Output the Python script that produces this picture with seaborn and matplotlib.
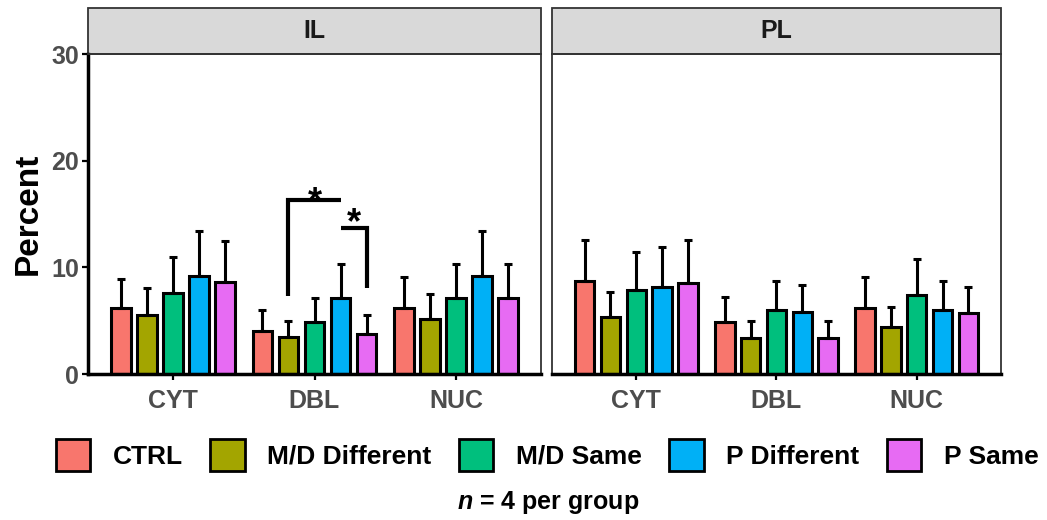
import numpy as np
import pandas as pd
import matplotlib
matplotlib.use("Agg")
import matplotlib.pyplot as plt
import seaborn as sns
from matplotlib.patches import Patch, Rectangle

sns.set_style("white")
plt.rcParams["font.family"] = ["Liberation Sans", "DejaVu Sans"]
plt.rcParams["font.weight"] = "bold"
plt.rcParams["text.color"] = "black"
plt.rcParams["mathtext.fontset"] = "custom"
plt.rcParams["mathtext.it"] = "Liberation Sans:italic:bold"
plt.rcParams["mathtext.rm"] = "Liberation Sans:bold"

regions = ["IL", "PL"]
locations = ["CYT", "DBL", "NUC"]
groups = ["CTRL", "M/D Different", "M/D Same", "P Different", "P Same"]
colors = ["#F8766D", "#A3A500", "#00BF7D", "#00B0F6", "#E76BF3"]

# mean percent, rows = location, columns = group
il_mean = [[6.15, 5.52, 7.63, 9.20, 8.58],
           [4.04, 3.47, 4.89, 7.16, 3.79],
           [6.15, 5.20, 7.16, 9.20, 7.16]]
il_sd = [[2.78, 2.58, 3.32, 4.20, 3.88],
         [1.96, 1.53, 2.27, 3.14, 1.73],
         [2.90, 2.28, 3.14, 4.20, 3.14]]
pl_mean = [[8.68, 5.36, 7.89, 8.20, 8.52],
           [4.83, 3.41, 6.00, 5.84, 3.41],
           [6.15, 4.42, 7.41, 6.00, 5.68]]
pl_sd = [[3.87, 2.37, 3.51, 3.70, 4.03],
         [2.43, 1.54, 2.74, 2.52, 1.54],
         [2.90, 1.88, 3.39, 2.68, 2.52]]

# significance brackets in IL / DBL
bracket_pairs = [("M/D Different", "P Different"), ("P Different", "P Same")]
bracket_top = [16.3, 13.7]
bracket_end = [7.3, 8.05]
bracket_leg = ["left", "right"]
star_y = [17.1, 15.1]

rows = []
for region, means, sds in [("IL", il_mean, il_sd), ("PL", pl_mean, pl_sd)]:
    for i, loc in enumerate(locations):
        for j, grp in enumerate(groups):
            rows.append({"region": region, "location": loc, "group": grp,
                         "mean": means[i][j], "sd": sds[i][j]})
df = pd.DataFrame(rows)

W, H = 1047, 520
fig = plt.figure(figsize=(W / 100, H / 100), dpi=100)
ax_il = fig.add_axes([88 / W, 1 - 374 / H, 453 / W, 320 / H])
ax_pl = fig.add_axes([552 / W, 1 - 374 / H, 449 / W, 320 / H])
axes = [ax_il, ax_pl]

for ax, region in zip(axes, regions):
    sub = df[df.region == region]
    sns.barplot(data=sub, x="location", y="mean", hue="group", order=locations,
                hue_order=groups, palette=colors, width=0.92, gap=0.25,
                edgecolor="black", linewidth=2.2, saturation=1, errorbar=None,
                legend=False, ax=ax)
    for bars, grp in zip(ax.containers, groups):
        g = sub[sub.group == grp].set_index("location").loc[locations]
        xs = [b.get_x() + b.get_width() / 2 for b in bars]
        ax.errorbar(xs, g["mean"], yerr=[np.zeros(len(xs)), g["sd"]], fmt="none",
                    ecolor="black", elinewidth=2.2, capsize=3, capthick=2.2, zorder=3)

    ax.set_ylim(0, 30)
    ax.set_xlim(-0.6, 2.6)
    ax.set_xlabel("")
    ax.set_ylabel("")
    for s in ax.spines.values():
        s.set_color("#333333")
        s.set_linewidth(1.3)
    ax.spines["bottom"].set_color("black")
    ax.spines["bottom"].set_linewidth(2.5)
    ax.tick_params(axis="x", length=4.5, width=1.6, color="black", pad=6,
                   labelsize=18, labelcolor="#4D4D4D", bottom=True)
    for t in ax.get_xticklabels():
        t.set_fontweight("bold")

    # facet strip
    sh = 46 / 320
    ax.add_patch(Rectangle((0, 1), 1, sh, transform=ax.transAxes, facecolor="#D9D9D9",
                           edgecolor="#333333", linewidth=1.3, clip_on=False))
    ax.text(0.5, 1 + sh / 2, region, transform=ax.transAxes, ha="center", va="center",
            fontsize=18, fontweight="bold", color="#1A1A1A")

ax_il.set_yticks([0, 10, 20, 30])
ax_il.spines["left"].set_color("black")
ax_il.spines["left"].set_linewidth(2.5)
ax_il.tick_params(axis="y", length=4.5, width=1.6, color="black", pad=2,
                  labelsize=18, labelcolor="#4D4D4D", left=True)
for t in ax_il.get_yticklabels():
    t.set_fontweight("bold")
ax_il.set_ylabel("Percent", fontsize=24, fontweight="bold", color="black", labelpad=5)

ax_pl.set_yticks([0, 10, 20, 30])
ax_pl.tick_params(axis="y", left=False, labelleft=False)

# significance brackets
dbl = locations.index("DBL")
centers = {grp: bars[dbl].get_x() + bars[dbl].get_width() / 2
           for grp, bars in zip(groups, ax_il.containers)}
for (a, b), top, end, leg, sy in zip(bracket_pairs, bracket_top, bracket_end, bracket_leg, star_y):
    xa, xb = centers[a], centers[b]
    if leg == "left":
        xs, ys = [xa, xa, xb], [end, top, top]
    else:
        xs, ys = [xa, xb, xb], [top, top, end]
    ax_il.plot(xs, ys, color="black", linewidth=3, solid_joinstyle="miter",
               solid_capstyle="butt", zorder=4)
    ax_il.annotate("*", xy=((xa + xb) / 2, sy), xytext=(0, -0.57 * 26),
                   textcoords="offset points", ha="center", va="baseline",
                   fontsize=26, fontweight="bold", color="black")

handles = [Patch(facecolor=c, edgecolor="black", linewidth=2, label=g)
           for c, g in zip(colors, groups)]
fig.legend(handles=handles, loc="center", bbox_to_anchor=(547 / W, 1 - 455 / H), ncol=5,
           frameon=False, prop={"weight": "bold", "size": 19}, labelcolor="black",
           handlelength=1.3, handleheight=1.45, handletextpad=0.85, columnspacing=1.05)

fig.text(548 / W, 1 - 503 / H, r"$\mathit{n}$ = 4 per group", ha="center", va="center",
         fontsize=18, fontweight="bold", color="black")

fig.savefig("out.png", dpi=100)
